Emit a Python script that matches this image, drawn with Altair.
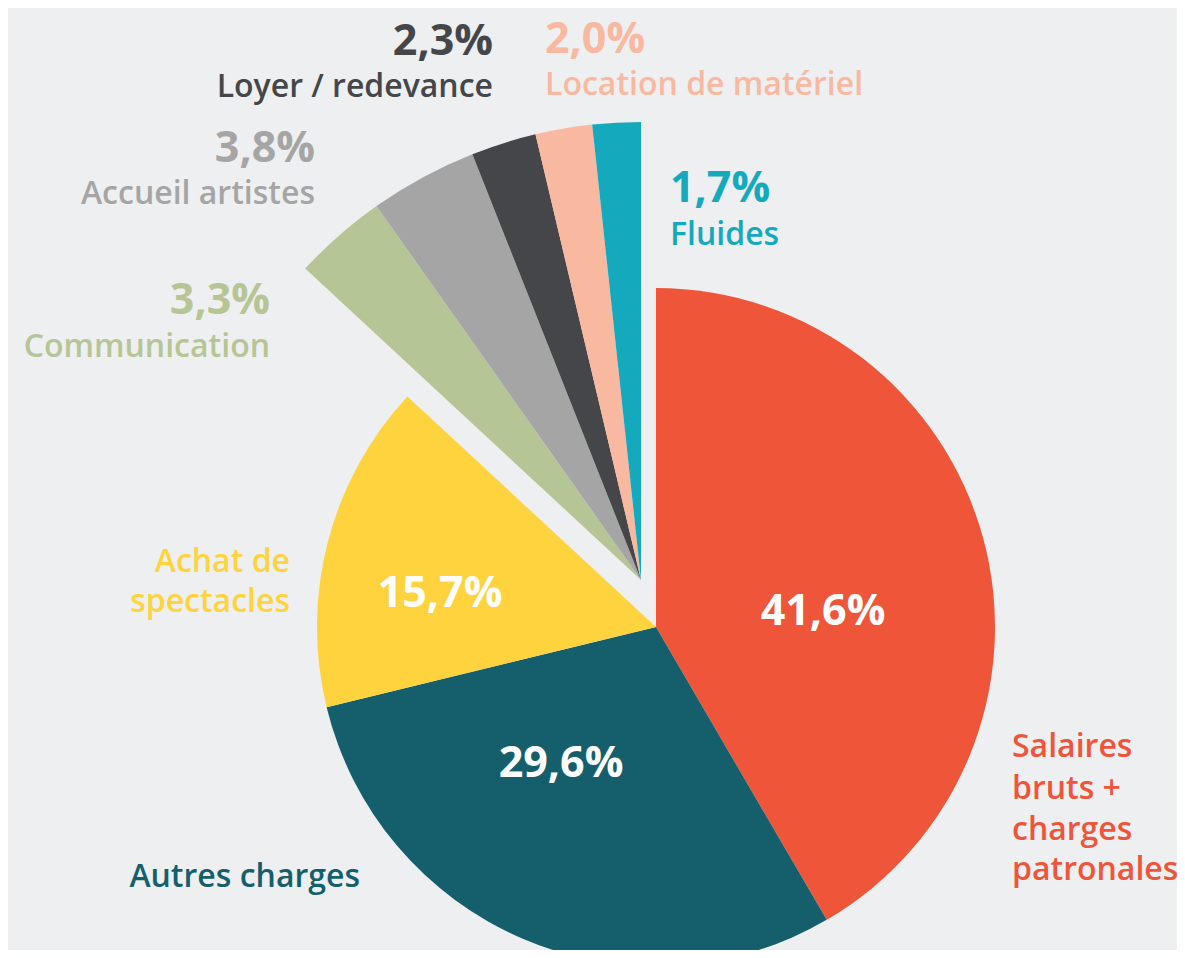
import math
import altair as alt
import pandas as pd

# ---- data ----
categories = ["Salaires bruts + charges patronales", "Autres charges", "Achat de spectacles",
              "Communication", "Accueil artistes", "Loyer / redevance",
              "Location de matériel", "Fluides"]
values = [41.6, 29.6, 15.7, 3.3, 3.8, 2.3, 2.0, 1.7]
groups = ["main", "main", "main", "small", "small", "small", "small", "small"]
colors = ["#EE5539", "#155F6D", "#FED33D", "#B6C595", "#A5A5A5", "#454649", "#F9B8A0", "#15A9BE"]
order = list(range(len(categories)))

df = pd.DataFrame({"category": categories, "value": values, "group": groups, "order": order})

# ---- label layout (annotation text, page layout in px) ----
BG = "#EEEFF1"
FONT = "Open Sans"
W, H = 1169, 942
MAIN_C = (648, 619)
SMALL_C = (633, 572)
R_MAIN = 339
R_SMALL = 458
PCT = 43
LAB = 32

label_rows = [
    # text, x, y, align, color, size, weight
    ("41,6%", 815, 617, "center", "#FFFFFF", PCT, 700),
    ("29,6%", 553, 769, "center", "#FFFFFF", PCT, 700),
    ("15,7%", 432, 599, "center", "#FFFFFF", PCT, 700),
    ("Salaires", 1004, 749, "left", colors[0], LAB, 600),
    ("bruts +", 1004, 791, "left", colors[0], LAB, 600),
    ("charges", 1004, 832, "left", colors[0], LAB, 600),
    ("patronales", 1004, 872, "left", colors[0], LAB, 600),
    ("Autres charges", 352, 879, "right", colors[1], LAB, 600),
    ("Achat de", 282, 564, "right", colors[2], LAB, 600),
    ("spectacles", 282, 604, "right", colors[2], LAB, 600),
    ("3,3%", 262, 306, "right", colors[3], PCT, 700),
    ("Communication", 262, 349, "right", colors[3], LAB, 600),
    ("3,8%", 307, 154, "right", colors[4], PCT, 700),
    ("Accueil artistes", 307, 196, "right", colors[4], LAB, 600),
    ("2,3%", 485, 47, "right", colors[5], PCT, 700),
    ("Loyer / redevance", 485, 89, "right", colors[5], LAB, 600),
    ("2,0%", 537, 45, "left", colors[6], PCT, 700),
    ("Location de matériel", 537, 87, "left", colors[6], LAB, 600),
    ("1,7%", 662, 194, "left", colors[7], PCT, 700),
    ("Fluides", 662, 237, "left", colors[7], LAB, 600),
]
labels = pd.DataFrame(label_rows, columns=["text", "x", "y", "align", "color", "size", "weight"])

color_scale = alt.Scale(domain=categories, range=colors)
theta_scale = alt.Scale(domain=[0, 100], range=[0, 2 * math.pi])

base = alt.Chart(df).transform_window(
    cum="sum(value)", sort=[alt.SortField("order")], frame=[None, 0]
).transform_calculate(start="datum.cum - datum.value")

main = base.transform_filter(alt.datum.group == "main").mark_arc(
    outerRadius=R_MAIN, stroke=None
).encode(
    theta=alt.Theta("start:Q", scale=theta_scale),
    theta2="cum:Q",
    color=alt.Color("category:N", scale=color_scale, legend=None),
    x=alt.value(MAIN_C[0]),
    y=alt.value(MAIN_C[1]),
)

small = base.transform_filter(alt.datum.group == "small").mark_arc(
    outerRadius=R_SMALL, stroke=None
).encode(
    theta=alt.Theta("start:Q", scale=theta_scale),
    theta2="cum:Q",
    color=alt.Color("category:N", scale=color_scale, legend=None),
    x=alt.value(SMALL_C[0]),
    y=alt.value(SMALL_C[1]),
)

layers = [main, small]
for (size, weight), sub in labels.groupby(["size", "weight"]):
    for align, sub2 in sub.groupby("align"):
        layers.append(
            alt.Chart(sub2).mark_text(
                font=FONT, fontSize=int(size), fontWeight=int(weight), align=align, baseline="alphabetic"
            ).encode(
                x=alt.X("x:Q", scale=None, axis=None),
                y=alt.Y("y:Q", scale=None, axis=None),
                text="text:N",
                color=alt.Color("color:N", scale=None, legend=None),
            )
        )

chart = alt.layer(*layers).properties(
    width=W, height=H, background=BG, padding=0,
    autosize=alt.AutoSizeParams(type="none"),
).configure_view(stroke=None).resolve_scale(theta="shared", color="independent")

chart.save("out.html", embed_options={"renderer": "svg", "actions": False})
